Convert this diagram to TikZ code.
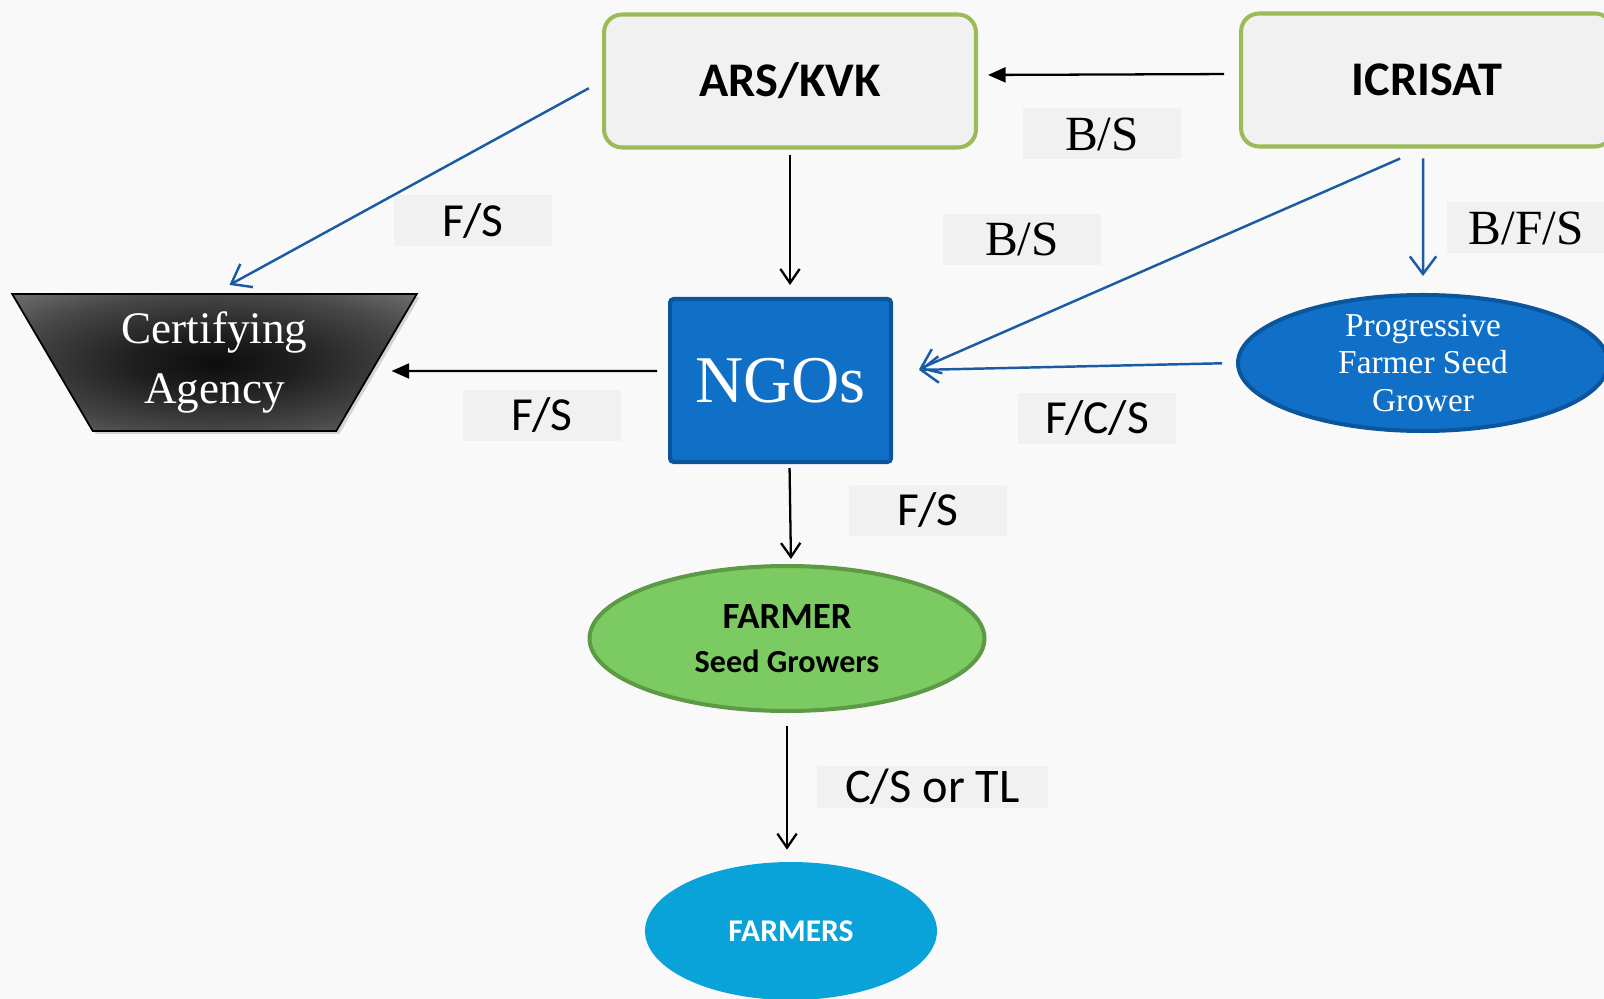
\documentclass[tikz,border=0pt]{standalone}
\usepackage{fontspec}
\setmainfont{Liberation Serif}
\setsansfont{Carlito}
\usepackage{tikz}
\usetikzlibrary{arrows.meta}
\usetikzlibrary{shapes.geometric}
\usetikzlibrary{shadows}

\definecolor{bggray}{HTML}{F9F9F9}
\definecolor{boxgray}{HTML}{F1F1F1}
\definecolor{olive}{HTML}{9BBB59}
\definecolor{ngoblue}{HTML}{1070C8}
\definecolor{ngoedge}{HTML}{0B559D}
\definecolor{leafgreen}{HTML}{7CCA62}
\definecolor{leafedge}{HTML}{5C9A46}
\definecolor{skyblue}{HTML}{0AA3D9}
\definecolor{linkblue}{HTML}{1A5BA3}
\pgfdeclareradialshading{agencyglow}{\pgfpoint{0bp}{0bp}}{color(0bp)=(black!95); color(10bp)=(black!88); color(25bp)=(black!72); color(40bp)=(black!50); color(50bp)=(black!40)}

\begin{document}
\begin{tikzpicture}[x=0.02cm, y=-0.02cm,
	inst/.style = {draw=olive, line width=2.3pt, fill=boxgray, rounded corners=0.36cm, minimum width=7.44cm, minimum height=2.66cm, font=\sffamily\bfseries\fontsize{27.5}{30}\selectfont},
	lbl/.style = {fill=boxgray, minimum width=3.16cm, minimum height=1.02cm, inner sep=0pt},
	lblsf/.style = {lbl, font=\sffamily\fontsize{27}{30}\selectfont},
	lblrm/.style = {lbl, font=\fontsize{28}{32}\selectfont},
	blk/.style = {line width=1.3pt, -{Straight Barb[length=8pt,width=11pt]}},
	blkfill/.style = {line width=1.3pt, -{Triangle[length=10pt,width=8.5pt]}},
	lnk/.style = {line width=1.4pt, draw=linkblue, -{Straight Barb[length=10pt,width=15pt]}}]
	\useasboundingbox (0,0) rectangle (1604,999);
	\fill[bggray] (0,0) rectangle (1604,999);
	% boxes
	\node[inst] (ars) at (790,81) {ARS/KVK};
	\node[inst] (icr) at (1427,80) {ICRISAT};
	\node[draw=ngoedge, line width=2.3pt, fill=ngoblue, rounded corners=2pt, minimum width=4.42cm, minimum height=3.26cm, text=white, font=\fontsize{38}{40}\selectfont] (ngo) at (780.5,380.5) {NGOs};
	\node[trapezium, trapezium stretches=true, shape border rotate=180, trapezium left angle=60, trapezium right angle=60, draw=black, line width=1pt, shade, shading=agencyglow, drop shadow={opacity=0.3, shadow xshift=0.06cm, shadow yshift=-0.06cm}, minimum width=8.1cm, minimum height=2.74cm, text=white, align=center, font=\fontsize{25.7}{34}\selectfont] (ca) at (214.5,362.5) {Certifying\\Agency};
	\node[ellipse, draw=ngoedge, line width=2.3pt, fill=ngoblue, minimum width=7.4cm, minimum height=2.72cm, inner xsep=0pt, inner ysep=-3pt, text=white, align=center, font=\fontsize{19}{21.5}\selectfont] (prg) at (1423,363) {Progressive\\Farmer Seed\\Grower};
	\node[ellipse, draw=leafedge, line width=2.3pt, fill=leafgreen, minimum width=7.9cm, minimum height=2.9cm, align=center, font=\sffamily\bfseries\fontsize{18.3}{25}\selectfont] (frm) at (787,638.5) {{\fontsize{21}{25}\selectfont FARMER}\\Seed Growers};
	\node[ellipse, fill=skyblue, minimum width=5.84cm, minimum height=2.76cm, text=white, font=\sffamily\bfseries\fontsize{18}{20}\selectfont] (fms) at (791,931) {FARMERS};
	% labels
	\node[lblrm] (bs1) at (1102,134) {B/S};
	\node[lblsf] (fs1) at (473,221) {F/S};
	\node[lblrm] (bs2) at (1022,239.5) {B/S};
	\node[lblrm] (bfs) at (1526,228) {B/F/S};
	\node[lblsf] (fs2) at (542,415.5) {F/S};
	\node[lblsf] (fcs) at (1097,418.5) {F/C/S};
	\node[lblsf] (fs3) at (928,510.5) {F/S};
	\node[lblsf, minimum width=4.62cm, minimum height=0.84cm, font=\sffamily\fontsize{27.5}{28}\selectfont] (csl) at (932.5,787) {C/S or TL};
	% arrows
	\draw[blkfill, shorten <=0.3cm, shorten >=0.2cm] ([yshift=0.12cm]icr.west) -- ([yshift=0.12cm]ars.east);
	\draw[blk, shorten <=0.1cm, shorten >=0.24cm] (ars.south) -- (ars.south |- ngo.north);
	\draw[lnk, shorten <=0.3cm, shorten >=0.34cm] (ars.west) -- (ca.north);
	\draw[blkfill, shorten <=0.22cm, shorten >=0.28cm] ([yshift=0.19cm]ngo.west) -- ([yshift=-0.17cm]ca.east);
	\draw[lnk, shorten <=0.5cm, shorten >=0.57cm] ([xshift=-0.08cm]icr.south) -- (ngo.east);
	\draw[lnk, shorten <=0.2cm, shorten >=0.34cm] ([xshift=-0.08cm]icr.south) -- (prg.north);
	\draw[lnk, shorten <=0.28cm, shorten >=0.52cm] (prg.west) -- ([yshift=0.2cm]ngo.east);
	\draw[blk, shorten <=0.08cm, shorten >=0.1cm] ([xshift=0.18cm]ngo.south) -- ([xshift=0.08cm]frm.north);
	\draw[blk, shorten <=0.26cm, shorten >=0.24cm] (frm.south) -- (frm.south |- fms.north);
\end{tikzpicture}
\end{document}
